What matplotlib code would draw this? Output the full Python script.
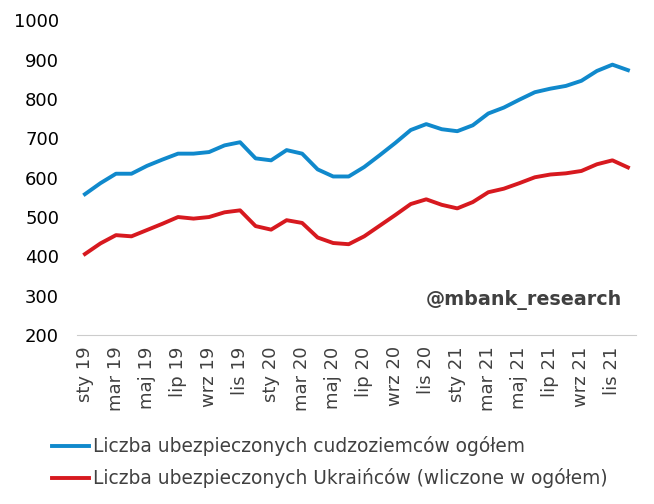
import matplotlib
matplotlib.use("Agg")
import matplotlib.pyplot as plt

months = ["sty", "lut", "mar", "kwi", "maj", "cze", "lip", "sie", "wrz", "paź", "lis", "gru"]
years = ["19", "20", "21"]
categories = [f"{m} {y}" for y in years for m in months]

total = [558, 586, 610, 610, 630, 646, 661, 661, 665, 682, 690, 649,
         644, 670, 661, 621, 603, 603, 627, 657, 688, 721, 736, 723,
         718, 733, 763, 778, 798, 817, 826, 833, 846, 871, 887, 873]
ukraine = [406, 433, 454, 451, 467, 483, 500, 496, 500, 512, 517, 477,
           468, 492, 485, 448, 434, 431, 451, 478, 505, 533, 545, 531,
           522, 538, 563, 572, 586, 601, 608, 611, 617, 634, 644, 626]

label_total = "Liczba ubezpieczonych cudzoziemców ogółem"
label_ukr = "Liczba ubezpieczonych Ukraińców (wliczone w ogółem)"

blue = "#1089CC"
red = "#D7191F"
txt = "#404040"

fig = plt.figure(figsize=(6.54, 5.04), dpi=100)
ax = fig.add_axes([0.118, 0.335, 0.854, 0.625])

x = list(range(len(categories)))
l1, = ax.plot(x, total, color=blue, lw=2.8, solid_joinstyle="round", label=label_total)
l2, = ax.plot(x, ukraine, color=red, lw=2.8, solid_joinstyle="round", label=label_ukr)

ax.set_xlim(-0.5, len(categories) - 0.5)
ax.set_ylim(200, 1000)
ax.set_yticks(range(200, 1001, 100))
ax.set_xticks(x[::2])
ax.set_xticklabels(categories[::2], rotation=90, fontsize=13, color=txt)
ax.tick_params(axis="y", labelsize=13, colors="black", length=0, pad=13)
ax.tick_params(axis="x", length=0, pad=8)

for s in ["top", "right", "left"]:
    ax.spines[s].set_visible(False)
ax.spines["bottom"].set_color("#CCCCCC")
ax.spines["bottom"].set_linewidth(0.8)

ax.text(0.975, 0.111, "@mbank_research", transform=ax.transAxes, ha="right",
        va="center", fontsize=13.8, fontweight="bold", color=txt)

fig.legend(handles=[l1, l2], loc="center left", bbox_to_anchor=(0.0795, 0.083),
           frameon=False, fontsize=13.4, handlelength=2.0, handletextpad=0.2,
           labelspacing=0.66, labelcolor=txt, borderaxespad=0, borderpad=0)

fig.savefig("out.png", dpi=100)
